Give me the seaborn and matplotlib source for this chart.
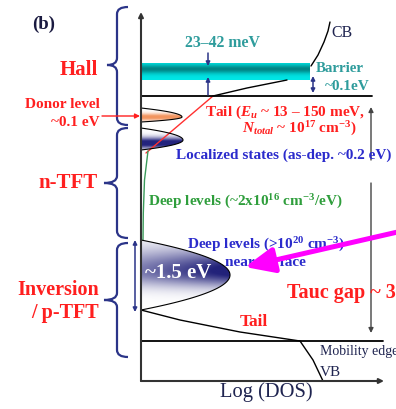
import numpy as np
import matplotlib
matplotlib.use("Agg")
import matplotlib.pyplot as plt
from matplotlib.path import Path
from matplotlib.patches import PathPatch
from matplotlib.colors import to_rgb
import seaborn as sns

sns.set_theme(style="white")
plt.rcParams["font.family"] = ["Liberation Serif", "DejaVu Serif"]
plt.rcParams["mathtext.fontset"] = "custom"
plt.rcParams["mathtext.rm"] = "Liberation Serif:bold"
plt.rcParams["mathtext.it"] = "Liberation Serif:italic:bold"
plt.rcParams["mathtext.bf"] = "Liberation Serif:bold"
plt.rcParams["mathtext.default"] = "regular"

# ---- schematic geometry (screen units, energy increases upward) ----
W, H = 396, 409
axis_x = 141
axis_top, axis_bottom, axis_right = 12, 381, 384
cb_edge_y, cb_edge_right = 96, 372
vb_edge_y, vb_edge_right = 341, 383

band_top, band_bottom, band_right, band_core = 63, 80, 310, 69

cb_x = [311, 318, 324, 328, 330]
cb_y = [66, 55, 42, 31, 22]
cb_tail_x = [213, 247, 287]
cb_tail_y = [96, 88, 80]
red_tail_x = [213, 146]
red_tail_y = [96, 153]
deep_x = [148, 144.5, 143.3, 143]
deep_y = [151, 180, 213, 240]
vb_tail_x = [141, 180, 240, 300]
vb_tail_y = [310, 320, 332, 341]
vb_x = [300, 313, 323]
vb_y = [341, 360, 381]

# lobes: (top, tip_y, bottom, tip_x)
donor_lobe = (108, 117, 122, 182)
local_lobe = (128, 140, 150, 183)
deep_lobe = (240, 275, 310, 230)

braces = [(7, 65, 125, 107), (128, 183, 238, 104), (243, 300, 357, 104)]
brace_labels = ["Hall", "n-TFT", "Inversion\n/ p-TFT"]

NAVY = "#2b3488"
RED = "#ff1f1f"
TEAL = "#2e9c9c"
BLUE = "#2b2bcc"
GREEN = "#2f9e3c"
DARK = "#1f2450"

fig = plt.figure(figsize=(W / 100, H / 100), dpi=100)
ax = fig.add_axes([0, 0, 1, 1])


def lobe_xy(x0, top, tip_y, bot, tip_x, n=120):
    s = np.linspace(-1, 1, n)
    y = np.where(s < 0, tip_y + s * (tip_y - top), tip_y + s * (bot - tip_y))
    x = x0 + (tip_x - x0) * (1 - s ** 2)
    return x, y


def gradient_fill(x, y, core, profile, z=2):
    verts = np.column_stack([np.r_[x, x[0]], np.r_[y, y[0]]])
    patch = PathPatch(Path(verts), facecolor="none", edgecolor="none")
    ax.add_patch(patch)
    x0, x1, y0, y1 = min(x), max(x), min(y), max(y)
    gx, gy = np.meshgrid(np.linspace(x0, x1, 300), np.linspace(y0, y1, 300))
    t = np.clip(profile(gx, gy), 0, 1)[..., None]
    img = (1 - t) * np.ones(3) + t * np.array(to_rgb(core))
    im = ax.imshow(img, extent=[x0, x1, y1, y0], origin="upper",
                   interpolation="bilinear", aspect="auto", zorder=z)
    im.set_clip_path(patch)


def draw_lobe(spec, core, profile):
    top, tip_y, bot, tip_x = spec
    x, y = lobe_xy(axis_x, top, tip_y, bot, tip_x)
    gradient_fill(x, y, core, profile)
    ax.plot(x, y, color="black", lw=0.8, zorder=3)


def brace(y0, ym, y1, x_tip, x_mid=117, x_end=128, r=7):
    verts = [(x_end, y0), (x_mid, y0), (x_mid, y0 + r),
             (x_mid, ym - r), (x_mid, ym), (x_tip, ym),
             (x_mid, ym), (x_mid, ym + r),
             (x_mid, y1 - r), (x_mid, y1), (x_end, y1)]
    codes = [Path.MOVETO, Path.CURVE3, Path.CURVE3,
             Path.LINETO, Path.CURVE3, Path.CURVE3,
             Path.CURVE3, Path.CURVE3,
             Path.LINETO, Path.CURVE3, Path.CURVE3]
    ax.add_patch(PathPatch(Path(verts, codes), facecolor="none",
                           edgecolor=NAVY, lw=1.6, zorder=3))


def arrow(tail, head, color, lw=1.0, style="-|>", ms=8, z=4):
    ax.annotate("", xy=head, xytext=tail,
                arrowprops=dict(arrowstyle=style, color=color, lw=lw,
                                mutation_scale=ms, shrinkA=0, shrinkB=0),
                zorder=z)


# ---- barrier band ----
bx = np.array([axis_x, band_right])
gy_band = np.linspace(band_top, band_bottom, 60)
tb = np.exp(-((gy_band - band_core) / 4.5) ** 2)[:, None, None]
band_img = (1 - tb) * np.array([0.0, 0.9, 0.9]) + tb * np.array([0.0, 0.52, 0.52])
band_img = np.repeat(band_img, 4, axis=1)
ax.imshow(band_img, extent=[bx[0], bx[1], band_bottom, band_top],
          origin="upper", aspect="auto", interpolation="bilinear", zorder=2)

# ---- density-of-states lobes ----
draw_lobe(donor_lobe, "#f29560",
          lambda gx, gy: 1.1 * np.exp(-((gy - 117) / 3.5) ** 2))
draw_lobe(local_lobe, "#24247e",
          lambda gx, gy: 1.15 * np.exp(-((gy - 143) / 5.5) ** 2))
draw_lobe(deep_lobe, "#22227a",
          lambda gx, gy: np.exp(-((gy - 271) / np.where(gy < 271, 22, 15)) ** 2)
          * (0.6 + 0.5 * (gx - axis_x) / 89))

# ---- band edges and tails ----
ax.plot([axis_x, cb_edge_right], [cb_edge_y, cb_edge_y], color="black", lw=1.3, zorder=3)
ax.plot([axis_x, vb_edge_right], [vb_edge_y, vb_edge_y], color="black", lw=1.3, zorder=3)
sns.lineplot(x=cb_x, y=cb_y, sort=False, estimator=None, color="black", lw=1.0, ax=ax)
sns.lineplot(x=cb_tail_x, y=cb_tail_y, sort=False, estimator=None, color="black", lw=1.0, ax=ax)
sns.lineplot(x=red_tail_x, y=red_tail_y, sort=False, estimator=None, color="#ff3030", lw=1.0, ax=ax)
sns.lineplot(x=deep_x, y=deep_y, sort=False, estimator=None, color="#3a9a5a", lw=1.0, ax=ax)
sns.lineplot(x=vb_tail_x, y=vb_tail_y, sort=False, estimator=None, color="black", lw=1.0, ax=ax)
sns.lineplot(x=vb_x, y=vb_y, sort=False, estimator=None, color="black", lw=1.0, ax=ax)

# ---- axes ----
arrow((axis_x, axis_bottom), (axis_x, axis_top), "#333333", lw=1.5, ms=7)
arrow((axis_x, axis_bottom), (axis_right, axis_bottom), "#333333", lw=1.5, ms=7)

# ---- energy arrows ----
arrow((208, 53), (208, 66), NAVY, lw=1.1, ms=6)
arrow((208, 95), (208, 77), NAVY, lw=1.1, ms=6)
arrow((313, 93), (313, 76), NAVY, lw=1.1, style="<|-|>", ms=6)
arrow((135, 312), (135, 240), NAVY, lw=1.1, style="<|-|>", ms=6)
arrow((371, 160), (371, 107), "#444444", lw=1.0, ms=7)
arrow((371, 183), (371, 333), "#444444", lw=1.0, ms=7)
arrow((102, 116), (140, 116), RED, lw=1.0, ms=7)

# ---- braces and region labels ----
for (y0, ym, y1, xt) in braces:
    brace(y0, ym, y1, xt)

bold = dict(fontweight="bold", zorder=6)
ax.text(79, 70, brace_labels[0], color=RED, fontsize=15, ha="center", va="center", **bold)
ax.text(68, 183, brace_labels[1], color=RED, fontsize=15, ha="center", va="center", **bold)
ax.text(99, 290, "Inversion", color=RED, fontsize=14.5, ha="right", va="center", **bold)
ax.text(99, 313, "/ p-TFT", color=RED, fontsize=14.5, ha="right", va="center", **bold)
ax.text(100, 104, "Donor level", color=RED, fontsize=11, ha="right", va="center", **bold)
ax.text(100, 123, "~0.1 eV", color=RED, fontsize=11, ha="right", va="center", **bold)
ax.text(32, 24, "(b)", color="#1a1a40", fontsize=13.5, ha="left", va="center", **bold)

# ---- annotations ----
ax.text(185, 43, "23–42 meV", color=TEAL, fontsize=11.4, ha="left", va="center", **bold)
ax.text(316, 68, "Barrier", color=TEAL, fontsize=10.8, ha="left", va="center", **bold)
ax.text(325, 87, "~0.1eV", color=TEAL, fontsize=11, ha="left", va="center", **bold)
ax.text(331, 33, "CB", color=DARK, fontsize=11.4, ha="left", va="center", zorder=6)
ax.text(205, 112, r"Tail ($\it{E}_{u}$ ~ 13 – 150 meV,", color=RED, fontsize=11,
        ha="left", va="center", **bold)
ax.text(242, 129, r"$\it{N}_{total}$ ~ 10$^{17}$ cm$^{-3}$)", color=RED, fontsize=11,
        ha="left", va="center", **bold)
ax.text(176, 155, "Localized states (as-dep. ~0.2 eV)", color=BLUE, fontsize=11,
        ha="left", va="center", **bold)
ax.text(148, 202, r"Deep levels (~2x10$^{16}$ cm$^{-3}$/eV)", color=GREEN, fontsize=11,
        ha="left", va="center", **bold)
ax.text(187, 245, r"Deep levels (>10$^{20}$ cm$^{-3}$)", color=BLUE, fontsize=11,
        ha="left", va="center", **bold)
ax.text(265, 262, "near surface", color=BLUE, fontsize=11, ha="center", va="center", **bold)
ax.text(145, 273, "~1.5 eV", color="white", fontsize=15, ha="left", va="center", **bold)
ax.text(287, 293, "Tauc gap ~ 3", color=RED, fontsize=14.5, ha="left", va="center", **bold)
ax.text(240, 322, "Tail", color=RED, fontsize=12.5, ha="left", va="center", **bold)
ax.text(320, 351, "Mobility edge", color=DARK, fontsize=10, ha="left", va="center", zorder=6)
ax.text(320, 372, "VB", color=DARK, fontsize=11, ha="left", va="center", zorder=6)
ax.text(266, 392, "Log (DOS)", color=DARK, fontsize=14.8, ha="center", va="center", zorder=6)

# ---- highlight arrow ----
ax.annotate("", xy=(245, 267), xytext=(402, 231),
            arrowprops=dict(arrowstyle="-|>,head_length=0.8,head_width=0.35",
                            color="#ff00ff", lw=3.6, mutation_scale=22,
                            shrinkA=0, shrinkB=0), zorder=7)

ax.set_xlim(0, W)
ax.set_ylim(H, 0)
ax.axis("off")
fig.savefig("out.png", dpi=100)
